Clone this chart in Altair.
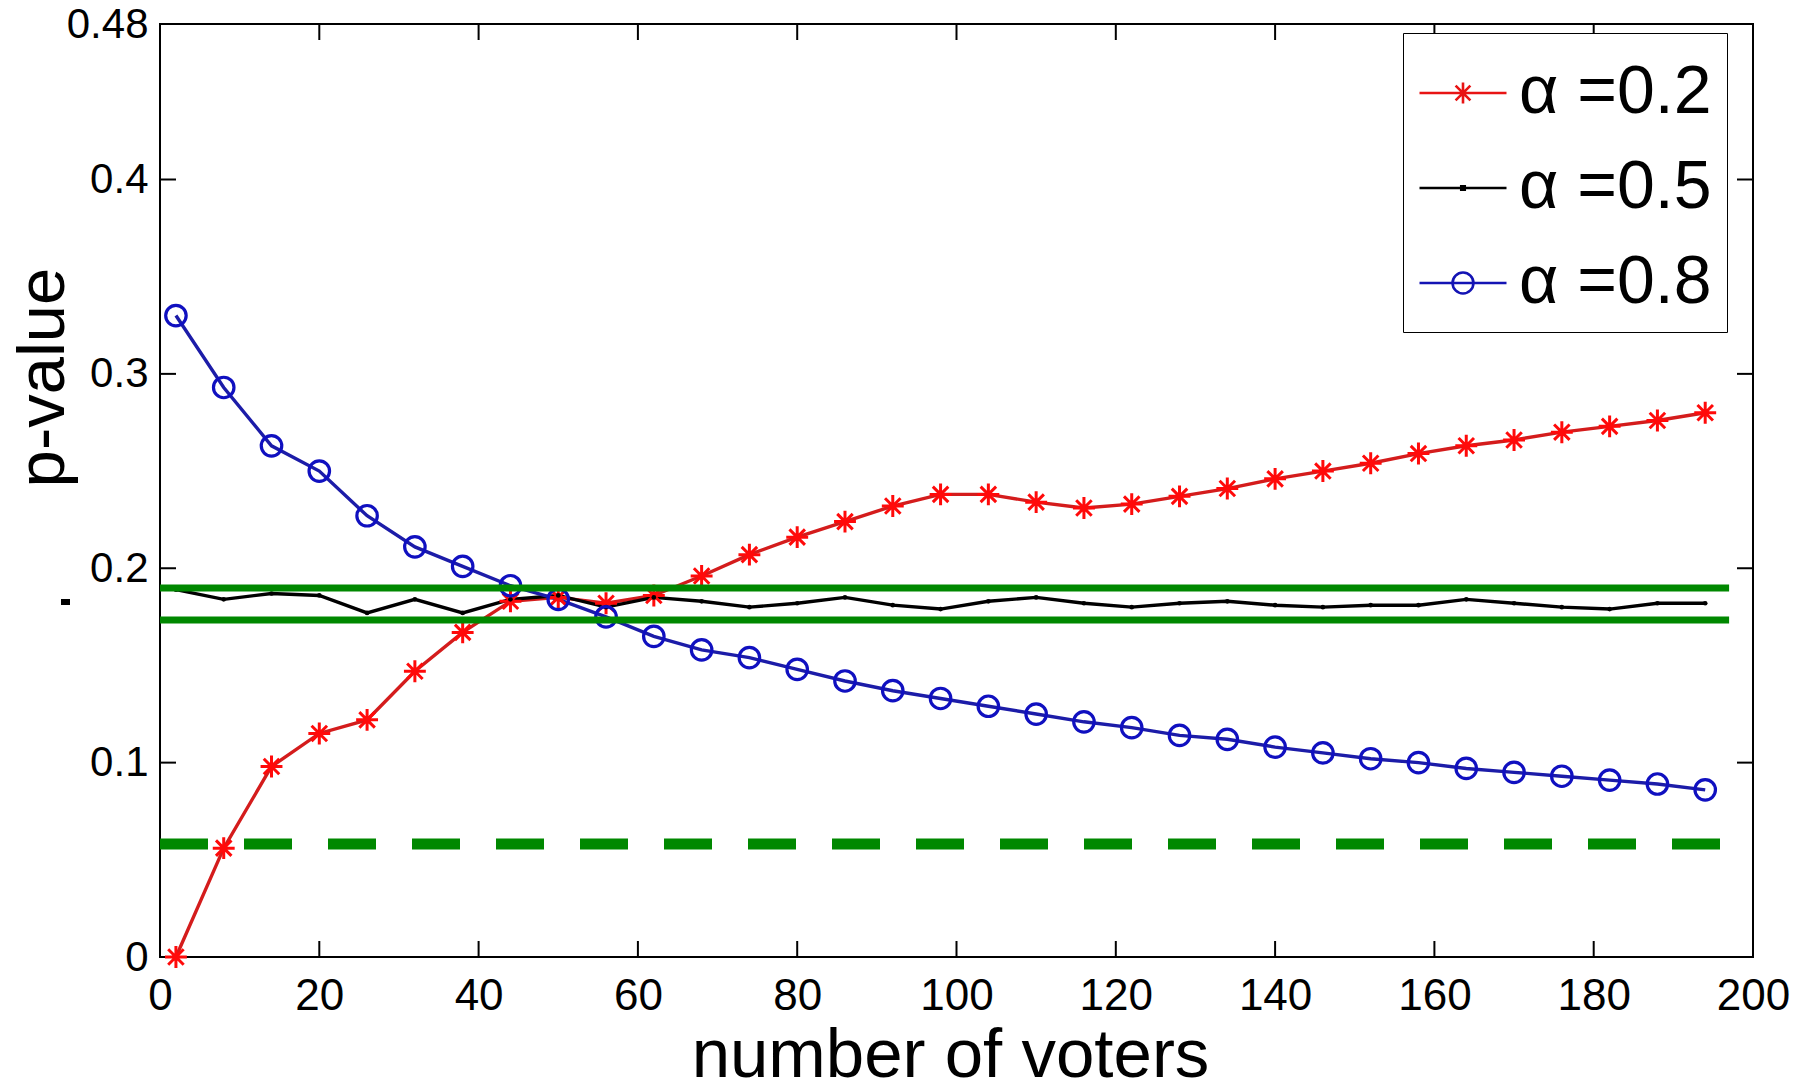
import altair as alt
import pandas as pd

# ---------------- data ----------------
voters = [2, 8, 14, 20, 26, 32, 38, 44, 50, 56, 62, 68, 74, 80, 86, 92, 98,
          104, 110, 116, 122, 128, 134, 140, 146, 152, 158, 164, 170, 176,
          182, 188, 194]

p_alpha_02 = [0.000, 0.056, 0.098, 0.115, 0.122, 0.147, 0.167, 0.183, 0.185,
              0.182, 0.186, 0.196, 0.207, 0.216, 0.224, 0.232, 0.238, 0.238,
              0.234, 0.231, 0.233, 0.237, 0.241, 0.246, 0.250, 0.254, 0.259,
              0.263, 0.266, 0.270, 0.273, 0.276, 0.280]

p_alpha_05 = [0.189, 0.184, 0.187, 0.186, 0.177, 0.184, 0.177, 0.184, 0.186,
              0.180, 0.185, 0.183, 0.180, 0.182, 0.185, 0.181, 0.179, 0.183,
              0.185, 0.182, 0.180, 0.182, 0.183, 0.181, 0.180, 0.181, 0.181,
              0.184, 0.182, 0.180, 0.179, 0.182, 0.182]

p_alpha_08 = [0.330, 0.293, 0.263, 0.250, 0.227, 0.211, 0.201, 0.191, 0.184,
              0.175, 0.165, 0.158, 0.154, 0.148, 0.142, 0.137, 0.133, 0.129,
              0.125, 0.121, 0.118, 0.114, 0.112, 0.108, 0.105, 0.102, 0.100,
              0.097, 0.095, 0.093, 0.091, 0.089, 0.086]

series_labels = ["α =0.2", "α =0.5", "α =0.8"]
line_colors = ["#d41c1c", "#000000", "#1c1ca8"]
marker_colors = ["#ff0a0a", "#000000", "#1010c0"]
legend_colors = ["#e81414", "#000000", "#1414b4"]

band_levels = [0.1898, 0.1734]      # solid green lines
dashed_level = [0.0581]             # dashed green line
ref_line_start = 0
ref_line_end = 197                  # x where the green lines stop

x_tick_values = [0, 20, 40, 60, 80, 100, 120, 140, 160, 180, 200]
y_tick_values = [0, 0.1, 0.2, 0.3, 0.4, 0.48]
inner_x_ticks = [20, 40, 60, 80, 100, 120, 140, 160, 180]
inner_y_ticks = [0.1, 0.2, 0.3, 0.4]

# ---------------- tables ----------------
rows = []
for lab, vals in zip(series_labels, [p_alpha_02, p_alpha_05, p_alpha_08]):
    for v, p in zip(voters, vals):
        rows.append({"voters": v, "p": p, "series": lab})
df = pd.DataFrame(rows)

band_df = pd.DataFrame({"p": band_levels,
                        "voters": [ref_line_start] * len(band_levels),
                        "voters_end": [ref_line_end] * len(band_levels)})
dash_df = pd.DataFrame({"p": dashed_level,
                        "voters": [ref_line_start],
                        "voters_end": [ref_line_end]})
yt = pd.DataFrame({"p": inner_y_ticks})
xt = pd.DataFrame({"voters": inner_x_ticks})

W, H = 1593, 933

ASTER = "M0,-1L0,1M-1,0L1,0M-0.707,-0.707L0.707,0.707M-0.707,0.707L0.707,-0.707"
LEG_ASTER = ("M-1,0L1,0M0,-0.24L0,0.24M-0.17,-0.17L0.17,0.17"
             "M-0.17,0.17L0.17,-0.17")
LEG_DOT = "M-1,0L1,0M-0.04,-0.04L0.04,-0.04L0.04,0.04L-0.04,0.04Z"
LEG_CIRC = ("M-1,0L1,0M-0.24,0A0.24,0.24 0 1,1 0.24,0"
            "A0.24,0.24 0 1,1 -0.24,0")

x_enc = alt.X("voters:Q",
              scale=alt.Scale(domain=[0, 200], nice=False),
              axis=alt.Axis(values=x_tick_values, title="number of voters",
                            grid=False, domain=False, ticks=False, tickSize=0,
                            labelFlush=False, labelOverlap=False,
                            labelFont="Liberation Sans", labelFontSize=44,
                            labelColor="black", labelPadding=17,
                            titleFont="Liberation Sans", titleFontSize=69,
                            titleFontWeight="normal", titleColor="black",
                            titleX=790, titleY=119, titleBaseline="alphabetic",
                            titleAlign="center"))
y_enc = alt.Y("p:Q",
              scale=alt.Scale(domain=[0, 0.48], nice=False),
              axis=alt.Axis(values=y_tick_values, title="p-value", format=".2~f",
                            grid=False, domain=False, ticks=False, tickSize=0,
                            labelFlush=False, labelOverlap=False,
                            labelFont="Liberation Sans", labelFontSize=42,
                            labelColor="black", labelPadding=12,
                            titleFont="Liberation Sans", titleFontSize=67,
                            titleFontWeight="normal", titleColor="black",
                            titleX=-97, titleY=353, titleAngle=270,
                            titleBaseline="alphabetic", titleAlign="center"))

lines = alt.Chart(df).mark_line(strokeWidth=3.4).encode(
    x=x_enc, y=y_enc,
    color=alt.Color("series:N",
                    scale=alt.Scale(domain=series_labels, range=line_colors),
                    legend=None),
    detail="series:N",
)

def pts(i, shape, size, sw, filled):
    return alt.Chart(df).transform_filter(
        alt.datum.series == series_labels[i]
    ).mark_point(shape=shape, size=size, strokeWidth=sw, filled=filled,
                 opacity=1, color=marker_colors[i]
    ).encode(x=x_enc, y=y_enc)

pts_red = pts(0, ASTER, 480, 3, False)
pts_black = pts(1, "circle", 22, 1, True)
pts_blue = pts(2, "circle", 420, 3.2, False)

ghost = alt.Chart(df).transform_filter("false").mark_point(
    filled=False, opacity=1
).encode(
    x=x_enc, y=y_enc,
    color=alt.Color("series:N",
                    scale=alt.Scale(domain=series_labels, range=legend_colors),
                    legend=alt.Legend(title=None)),
    shape=alt.Shape("series:N",
                    scale=alt.Scale(domain=series_labels,
                                    range=[LEG_ASTER, LEG_DOT, LEG_CIRC]),
                    legend=alt.Legend(title=None)),
)

band = alt.Chart(band_df).mark_rule(color="#008800", strokeWidth=7).encode(
    y=y_enc, x=x_enc, x2="voters_end:Q")

dashed = alt.Chart(dash_df).mark_rule(
    color="#008800", strokeWidth=11, strokeDash=[48, 36]
).encode(y=y_enc, x=x_enc, x2="voters_end:Q")

tick_style = dict(color="black", strokeWidth=2)
ticks_left = alt.Chart(yt).mark_rule(**tick_style).encode(
    y=y_enc, x=alt.value(0), x2=alt.value(16))
ticks_right = alt.Chart(yt).mark_rule(**tick_style).encode(
    y=y_enc, x=alt.value(W), x2=alt.value(W - 16))
ticks_bottom = alt.Chart(xt).mark_rule(**tick_style).encode(
    x=x_enc, y=alt.value(H), y2=alt.value(H - 16))
ticks_top = alt.Chart(xt).mark_rule(**tick_style).encode(
    x=x_enc, y=alt.value(0), y2=alt.value(16))

speck = alt.Chart(pd.DataFrame({"a": [0]})).mark_rule(
    color="black", strokeWidth=6
).encode(x=alt.value(-99), x2=alt.value(-90), y=alt.value(578))

chart = alt.layer(
    lines, pts_red, pts_black, pts_blue, band, dashed,
    ticks_left, ticks_right, ticks_bottom, ticks_top, speck, ghost
).resolve_scale(
    color="independent", shape="independent"
).properties(
    width=W, height=H,
    autosize=alt.AutoSizeParams(type="none"),
    padding={"left": 152, "top": 16, "right": 40, "bottom": 126},
    background="white",
).configure_view(
    stroke="black", strokeWidth=2
).configure_legend(
    orient="none", legendX=1243, legendY=9, direction="vertical",
    fillColor="white", strokeColor="black", padding=15,
    symbolSize=7569, symbolStrokeWidth=2.6, symbolOpacity=1,
    labelFont="Liberation Sans", labelFontSize=68, labelColor="black",
    labelLimit=400, labelOffset=11, rowPadding=16,
)

chart.save("out.html", embed_options={"renderer": "svg", "actions": False})
